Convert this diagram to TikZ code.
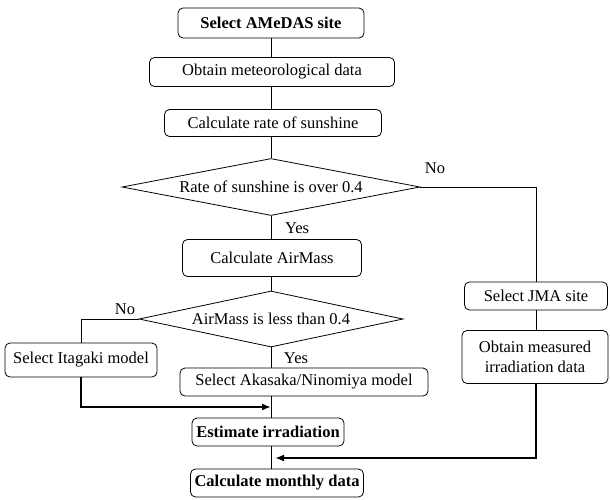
\documentclass[tikz,border=0pt]{standalone}
\usepackage{fontspec}
\setmainfont{Liberation Serif}
\usepackage{tikz}
\usetikzlibrary{calc,shapes.geometric,arrows.meta}

\begin{document}
\begin{tikzpicture}[x=1pt,y=-1pt,
  box/.style={draw,rounded corners=5pt,line width=0.8pt,inner sep=0pt,align=center,font=\fontsize{16.5}{20}\selectfont},
  dec/.style={draw,diamond,line width=0.8pt,inner sep=0pt,font=\fontsize{16.5}{20}\selectfont},
  lbl/.style={font=\fontsize{16.5}{20}\selectfont},
  link/.style={line width=0.8pt},
  flow/.style={line width=2.3pt,-{Latex[length=9pt,width=7pt]}}]
\useasboundingbox (0,0) rectangle (610,499);
\coordinate (spine) at (271,0);
% main column
\node[box,minimum width=186pt,minimum height=30pt] (amedas) at (271,23) {\textbf{Select AMeDAS site}};
\node[box,minimum width=245pt,minimum height=29pt] (meteo) at (272,72) {Obtain meteorological data};
\node[box,minimum width=217pt,minimum height=27pt] (rate) at (273,123) {Calculate rate of sunshine};
\node[dec,minimum width=298pt,minimum height=57pt,aspect=5.2] (sunq) at (271,187) {Rate of sunshine is over 0.4};
\node[box,minimum width=179pt,minimum height=37pt] (airmass) at (272,258) {Calculate AirMass};
\node[dec,minimum width=264pt,minimum height=56pt,aspect=4.7] (airq) at (271,319) {AirMass is less than 0.4};
\node[box,minimum width=248pt,minimum height=28pt] (akasaka) at (304,382) {Select Akasaka/Ninomiya model};
\node[box,minimum width=152pt,minimum height=28pt] (estim) at (268,432) {\textbf{Estimate irradiation}};
\node[box,minimum width=173pt,minimum height=28pt] (monthly) at (277,483) {\textbf{Calculate monthly data}};
% side boxes
\node[box,minimum width=152pt,minimum height=34pt] (itagaki) at (81,360) {Select Itagaki model};
\node[box,minimum width=143pt,minimum height=28pt] (jma) at (536,296) {Select JMA site};
\node[box,minimum width=146pt,minimum height=53pt] (measured) at (535,357) {Obtain measured\\irradiation data};
% labels
\node[lbl] (yes1) at (297,228) {Yes};
\node[lbl] (yes2) at (296,358) {Yes};
\node[lbl] (no1) at (435,168) {No};
\node[lbl] (no2) at (125,309) {No};
\coordinate (join1) at (271,407);
\coordinate (join2) at (275,458);
% connectors
\draw[link] (amedas.south -| spine) -- (meteo.north -| spine);
\draw[link] (meteo.south -| spine) -- (rate.north -| spine);
\draw[link] (rate.south -| spine) -- (sunq.north);
\draw[link] (sunq.south) -- (airmass.north -| spine);
\draw[link] (airmass.south -| spine) -- (airq.north);
\draw[link] (airq.south) -- (akasaka.north -| spine);
\draw[link] (akasaka.south -| spine) -- (estim.north -| spine);
\draw[link] (estim.south -| spine) -- (monthly.north -| spine);
\draw[link] (sunq.east) -| (jma.north);
\draw[link] (jma.south) -- (measured.north -| jma.south);
\draw[link] (airq.west) -| (itagaki.north);
\draw[flow] (itagaki.south) |- (join1);
\draw[flow] (measured.south -| jma.south) |- (join2);
\end{tikzpicture}
\end{document}
